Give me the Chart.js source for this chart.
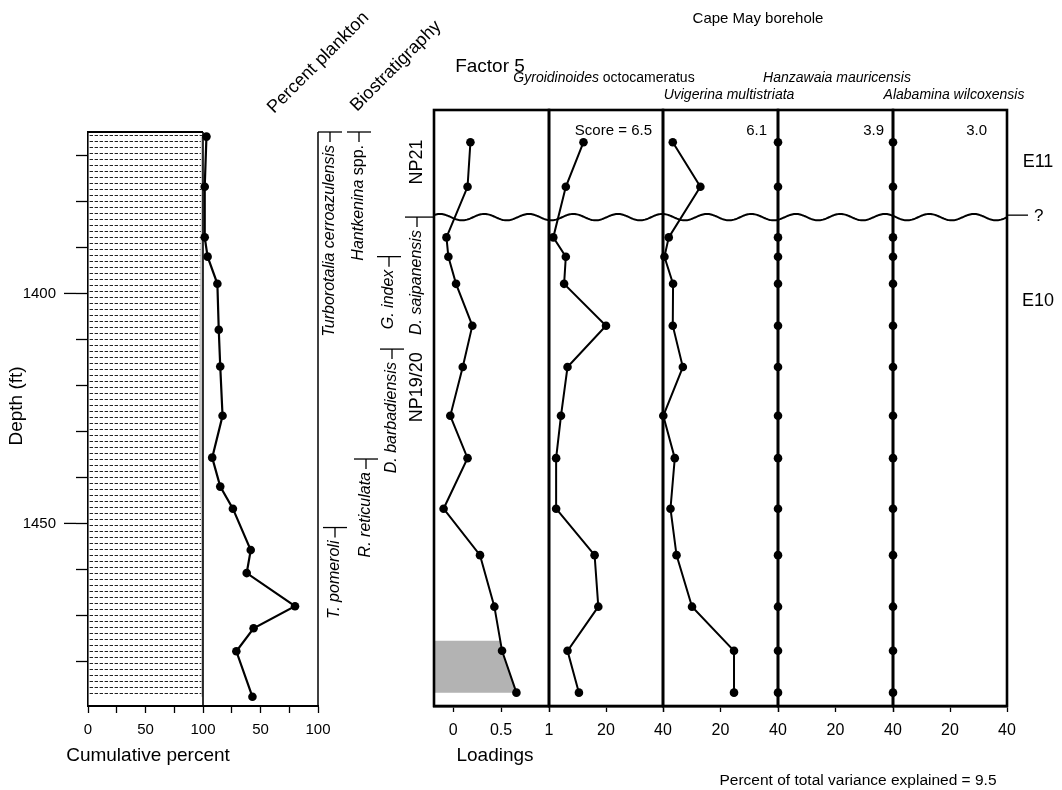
<!DOCTYPE html>
<html>
<head>
<meta charset="utf-8">
<title>Cape May borehole</title>
<script src="https://cdn.jsdelivr.net/npm/chart.js@4.4.0/dist/chart.umd.min.js"></script>
<style>
  html, body { margin: 0; padding: 0; background: #fff; }
  #figure { position: relative; width: 1062px; height: 790px; overflow: hidden; }
  #figure canvas { position: absolute; left: 0; top: 0; }
</style>
</head>
<body>
<div id="figure">
  <canvas id="plankton" width="1062" height="790"></canvas>
  <canvas id="col0" width="1062" height="790"></canvas>
  <canvas id="col1" width="1062" height="790"></canvas>
  <canvas id="col2" width="1062" height="790"></canvas>
  <canvas id="col3" width="1062" height="790"></canvas>
  <canvas id="col4" width="1062" height="790"></canvas>
</div>
<script>
const FONT = '"Liberation Sans", Arial, Helvetica, sans-serif';
Chart.defaults.font.family = FONT;
Chart.defaults.color = '#000';

// --- percent plankton column ---
const sampleDepth = [1365.9, 1376.8, 1387.8, 1392.0, 1397.9, 1407.9, 1415.9, 1426.6, 1435.7,
                     1442.0, 1446.8, 1455.8, 1460.8, 1468.0, 1472.8, 1477.8, 1487.7];
const planktonPct = [3, 1.5, 1.5, 4, 12.5, 13.7, 15, 17, 8, 15, 26, 41.5, 38, 80, 44, 29, 43];
const benthicCumPct = [98, 98.5, 98, 97.5, 97.5, 97, 97, 96.5, 96.5, 97, 98, 98.5, 98.5, 98.5, 98.5, 98.5, 98.5];

// --- factor 5 columns ---
const factorDepth = [1367.1, 1376.8, 1387.8, 1392.0, 1397.9, 1407.0, 1416.0,
                     1426.6, 1435.8, 1446.8, 1456.9, 1468.1, 1477.7, 1486.8];
const loadings      = [0.18, 0.15, -0.07, -0.05, 0.03, 0.20, 0.10, -0.03, 0.15, -0.10, 0.28, 0.43, 0.51, 0.66];
const gyroidinoides = [12.1, 5.9, 1.5, 5.9, 5.3, 20.0, 6.5, 4.2, 2.5, 2.5, 16.0, 17.3, 6.5, 10.5];
const uvigerina     = [3.4, 13.0, 2.0, 0.5, 3.5, 3.4, 6.9, 0.1, 4.1, 2.6, 4.7, 10.1, 24.7, 24.7];
const hanzawaia     = [0, 0, 0, 0, 0, 0, 0, 0, 0, 0, 0, 0, 0, 0];
const alabamina     = [0, 0, 0, 0, 0, 0, 0, 0, 0, 0, 0, 0, 0, 0];
const speciesNames  = ['Gyroidinoides octocameratus', 'Uvigerina multistriata',
                       'Hanzawaia mauricensis', 'Alabamina wilcoxensis'];
const speciesScores = [6.5, 6.1, 3.9, 3.0];
const varianceExplained = 9.5;
const shadedFrom = 1475.5;

// --- ticks ---
const depthTicks = [1370, 1380, 1390, 1400, 1410, 1420, 1430, 1440, 1450, 1460, 1470, 1480];
const depthLabels = [1400, 1450];
const percentTicks = [0, 25, 50, 75, 100, 125, 150, 175, 200];
const percentTickLabels = ['0', '', '50', '', '100', '', '50', '', '100'];
const loadingTicks = [0, 0.5, 1];
const loadingTickLabels = ['0', '0.5', '1'];
const scoreTicks = [0, 20, 40];
const scoreTickLabels = ['', '20', '40'];

// --- biostratigraphy ---
const datumNames = ['Turborotalia cerroazulensis', 'Hantkenina spp.', 'G. index', 'D. saipanensis',
                    'D. barbadiensis', 'R. reticulata', 'T. pomeroli'];
const datumDepths = [1364.9, 1364.9, 1392.0, 1383.4, 1412.1, 1436.0, 1450.9];
const unconformityDepth = 1383.4;
const nannoZones = ['NP21', 'NP19/20'];
const nannoZoneMid = [1371.4, 1420.4];
const foramZones = ['E11', 'E10'];
const foramZoneMid = [1371.4, 1401.6];

const PLANKTON_BASE = 100;   // plankton percent sits to the right of the cumulative column
const panelEdges = [434, 549, 663, 778, 893, 1007];

// text helper: parts = [[string, italic], ...]
function drawText(ctx, parts, x, y, size, align = 'left', angle = 0, baseline = 'middle') {
  ctx.save();
  ctx.translate(x, y);
  ctx.rotate(angle);
  ctx.textBaseline = baseline;
  ctx.textAlign = 'left';
  ctx.fillStyle = '#000';
  const fonts = parts.map(p => (p[1] ? 'italic ' : '') + size + 'px ' + FONT);
  const widths = parts.map((p, i) => { ctx.font = fonts[i]; return ctx.measureText(p[0]).width; });
  const total = widths.reduce((a, b) => a + b, 0);
  let cx = align === 'center' ? -total / 2 : align === 'right' ? -total : 0;
  parts.forEach((p, i) => { ctx.font = fonts[i]; ctx.fillText(p[0], cx, 0); cx += widths[i]; });
  ctx.restore();
}

function line(ctx, x0, y0, x1, y1, w) {
  ctx.beginPath();
  ctx.moveTo(x0, y0);
  ctx.lineTo(x1, y1);
  ctx.lineWidth = w;
  ctx.strokeStyle = '#000';
  ctx.stroke();
}

function drawWave(ctx, yScale, x0, x1) {
  const base = yScale.getPixelForValue(unconformityDepth);
  ctx.beginPath();
  for (let x = x0; x <= x1; x += 1) {
    const y = base + 3.2 * Math.sin(2 * Math.PI * (x - 451) / 44.5);
    if (x === x0) ctx.moveTo(x, y); else ctx.lineTo(x, y);
  }
  ctx.lineWidth = 2;
  ctx.strokeStyle = '#000';
  ctx.stroke();
}

function splitName(name) {
  if (name.endsWith(' spp.')) return [[name.slice(0, -5), true], [' spp.', false]];
  if (name.indexOf('octocameratus') > 0) return [[name.split(' ')[0], true], [' octocameratus', false]];
  return [[name, true]];
}

const planktonDecor = {
  id: 'planktonDecor',
  beforeDatasetsDraw(chart) {
    const { ctx, scales: { x, y } } = chart;
    const x0 = x.getPixelForValue(0), x1 = x.getPixelForValue(100);
    const yTop = y.top, yEnd = y.getPixelForValue(sampleDepth[sampleDepth.length - 1]);

    // dashed lithology fill
    const tile = document.createElement('canvas');
    tile.width = 5; tile.height = 6;
    const t = tile.getContext('2d');
    t.fillStyle = '#222';
    t.fillRect(0, 3, 3, 1);
    t.fillStyle = '#aaa';
    t.fillRect(4, 3, 1, 1);
    ctx.save();
    ctx.fillStyle = ctx.createPattern(tile, 'repeat');
    ctx.fillRect(x0 + 1, yTop + 2, x1 - x0 - 2, yEnd - yTop - 2);

    // remainder of the cumulative column
    ctx.beginPath();
    sampleDepth.forEach((d, i) => {
      const px = x.getPixelForValue(benthicCumPct[i]), py = y.getPixelForValue(d);
      if (i === 0) ctx.moveTo(px, py); else ctx.lineTo(px, py);
    });
    ctx.lineTo(x1, yEnd);
    ctx.lineTo(x1, y.getPixelForValue(sampleDepth[0]));
    ctx.closePath();
    ctx.fillStyle = '#c8c8c8';
    ctx.fill();
    ctx.restore();

    line(ctx, x0, yTop, x1, yTop, 2.2);
    line(ctx, x1, yTop, x1, y.bottom, 1.6);
    line(ctx, x.getPixelForValue(200), yTop, x.getPixelForValue(200), y.bottom, 1.5);
  },
  afterDraw(chart) {
    const { ctx, scales: { x, y } } = chart;
    // longer ticks for labelled depths
    depthLabels.forEach(d => {
      const py = y.getPixelForValue(d);
      line(ctx, x.left - 24, py, x.left - 12, py, 1.3);
    });

    drawText(ctx, [['Depth (ft)', false]], 17, 406, 19, 'center', -Math.PI / 2);
    drawText(ctx, [['Cumulative percent', false]], 148, 756, 19, 'center');
    drawText(ctx, [['Percent plankton', false]], 274, 114, 18, 'left', -Math.PI / 4, 'alphabetic');
    drawText(ctx, [['Biostratigraphy', false]], 357, 112, 18, 'left', -Math.PI / 4, 'alphabetic');

    // datum markers with rotated species names
    const datumX = [330, 359, 389, 417, 392, 366, 335];
    datumNames.forEach((name, i) => {
      const cx = datumX[i], py = y.getPixelForValue(datumDepths[i]);
      const barRight = name === 'D. saipanensis' ? panelEdges[0] : cx + 12;
      line(ctx, cx - 12, py, barRight, py, 1.3);
      line(ctx, cx, py, cx, py + 10, 1.3);
      drawText(ctx, splitName(name), cx, py + 13, 16, 'right', -Math.PI / 2);
    });

    nannoZones.forEach((z, i) => {
      drawText(ctx, [[z, false]], 417, y.getPixelForValue(nannoZoneMid[i]), 18, 'center', -Math.PI / 2);
    });
  }
};

new Chart(document.getElementById('plankton'), {
  type: 'scatter',
  data: {
    datasets: [{
      data: sampleDepth.map((d, i) => ({ x: PLANKTON_BASE + planktonPct[i], y: d })),
      showLine: true,
      borderColor: '#000',
      borderWidth: 2.2,
      pointRadius: 4.3,
      pointBackgroundColor: '#000',
      pointBorderWidth: 0,
      clip: false
    }]
  },
  options: {
    responsive: false,
    animation: false,
    events: [],
    layout: { padding: { left: 0, right: 1062 - 318, top: 132, bottom: 790 - 706 - 56 } },
    plugins: { legend: { display: false }, tooltip: { enabled: false } },
    scales: {
      x: {
        type: 'linear', min: 0, max: 200,
        afterBuildTicks: s => { s.ticks = percentTicks.map(v => ({ value: v })); },
        afterFit: s => { s.height = 56; },
        ticks: {
          autoSkip: false, maxRotation: 0, padding: 8, font: { size: 15 },
          callback: v => percentTickLabels[percentTicks.indexOf(v)]
        },
        grid: { drawOnChartArea: false, tickLength: 7, tickWidth: 1.3, tickColor: '#000' },
        border: { color: '#000', width: 2 }
      },
      y: {
        type: 'linear', reverse: true, min: 1364.9, max: 1489.7,
        afterBuildTicks: s => { s.ticks = depthTicks.map(v => ({ value: v })); },
        afterFit: s => { s.width = 88; },
        ticks: {
          autoSkip: false, padding: 20, font: { size: 15 },
          callback: v => (depthLabels.includes(v) ? String(v) : '')
        },
        grid: { drawOnChartArea: false, tickLength: 12, tickWidth: 1.3, tickColor: '#000' },
        border: { color: '#000', width: 1.6 }
      }
    }
  },
  plugins: [planktonDecor]
});

// --- factor 5 panels ---
const columns = [
  { values: loadings, min: -0.2, max: 1, ticks: loadingTicks, labels: loadingTickLabels },
  { values: gyroidinoides, min: 0, max: 40, ticks: scoreTicks, labels: scoreTickLabels },
  { values: uvigerina, min: 0, max: 40, ticks: scoreTicks, labels: scoreTickLabels },
  { values: hanzawaia, min: 0, max: 40, ticks: scoreTicks, labels: scoreTickLabels },
  { values: alabamina, min: 0, max: 40, ticks: scoreTicks, labels: scoreTickLabels }
];

// where the species names and scores sit above each panel
const nameAnchors = [[604, 78], [729, 95], [837, 78], [954, 95]];
const scoreRight = [652, 767, 884, 987];

function panelDecor(idx) {
  return {
    id: 'panelDecor' + idx,
    beforeDatasetsDraw(chart) {
      if (idx !== 0) return;
      const { ctx, scales: { x, y } } = chart;
      const k = factorDepth.findIndex(d => d >= shadedFrom);
      const d0 = factorDepth[k - 1], d1 = factorDepth[k];
      const v = loadings[k - 1] + (loadings[k] - loadings[k - 1]) * (shadedFrom - d0) / (d1 - d0);
      ctx.save();
      ctx.beginPath();
      ctx.moveTo(x.left, y.getPixelForValue(shadedFrom));
      ctx.lineTo(x.getPixelForValue(v), y.getPixelForValue(shadedFrom));
      for (let j = k; j < factorDepth.length; j++) {
        ctx.lineTo(x.getPixelForValue(loadings[j]), y.getPixelForValue(factorDepth[j]));
      }
      ctx.lineTo(x.left, y.getPixelForValue(factorDepth[factorDepth.length - 1]));
      ctx.closePath();
      ctx.fillStyle = '#b3b3b3';
      ctx.fill();
      ctx.restore();
    },
    afterDatasetsDraw(chart) {
      const { ctx, chartArea: a, scales: { y } } = chart;
      ctx.save();
      ctx.lineWidth = 2.6;
      ctx.strokeStyle = '#000';
      ctx.strokeRect(a.left, a.top, a.right - a.left, a.bottom - a.top);
      ctx.restore();
      drawWave(ctx, y, a.left, a.right);
    },
    afterDraw(chart) {
      const { ctx, chartArea: a, scales: { y } } = chart;
      if (idx === 0) {
        drawText(ctx, [['Factor 5', false]], 490, 67, 19, 'center');
        drawText(ctx, [['Loadings', false]], 495, 756, 19, 'center');
        return;
      }
      const s = idx - 1;
      drawText(ctx, splitName(speciesNames[s]), nameAnchors[s][0], nameAnchors[s][1], 14, 'center');
      const scoreText = (s === 0 ? 'Score = ' : '') + speciesScores[s].toFixed(1);
      drawText(ctx, [[scoreText, false]], scoreRight[s], 131, 15, 'right');
      if (idx === 4) {
        const py = y.getPixelForValue(unconformityDepth) - 2;
        line(ctx, a.right, py, a.right + 21, py, 1.3);
        drawText(ctx, [['?', false]], a.right + 27, py + 1, 17, 'left');
        foramZones.forEach((z, i) => {
          drawText(ctx, [[z, false]], 1038, y.getPixelForValue(foramZoneMid[i]), 18, 'center');
        });
        drawText(ctx, [['Cape May borehole', false]], 758, 19, 15, 'center');
        drawText(ctx, [['Percent of total variance explained = ' + varianceExplained, false]], 858, 781, 15.5, 'center');
      }
    }
  };
}

columns.forEach((col, idx) => {
  new Chart(document.getElementById('col' + idx), {
    type: 'scatter',
    data: {
      datasets: [{
        data: factorDepth.map((d, i) => ({ x: col.values[i], y: d })),
        showLine: true,
        borderColor: '#000',
        borderWidth: 2,
        pointRadius: 4.3,
        pointBackgroundColor: '#000',
        pointBorderWidth: 0,
        clip: false
      }]
    },
    options: {
      responsive: false,
      animation: false,
      events: [],
      layout: {
        padding: {
          left: panelEdges[idx], right: 1062 - panelEdges[idx + 1],
          top: 110, bottom: 790 - 706 - 56
        }
      },
      plugins: { legend: { display: false }, tooltip: { enabled: false } },
      scales: {
        x: {
          type: 'linear', min: col.min, max: col.max,
          afterBuildTicks: s => { s.ticks = col.ticks.map(v => ({ value: v })); },
          afterFit: s => { s.height = 56; },
          ticks: {
            autoSkip: false, maxRotation: 0, padding: 9, font: { size: 16 },
            callback: v => col.labels[col.ticks.indexOf(v)]
          },
          grid: { drawOnChartArea: false, tickLength: 6, tickWidth: 1.3, tickColor: '#000' },
          border: { color: '#000', width: 2.6 }
        },
        y: { type: 'linear', reverse: true, min: 1360.1, max: 1489.7, display: false }
      }
    },
    plugins: [panelDecor(idx)]
  });
});
</script>
</body>
</html>
